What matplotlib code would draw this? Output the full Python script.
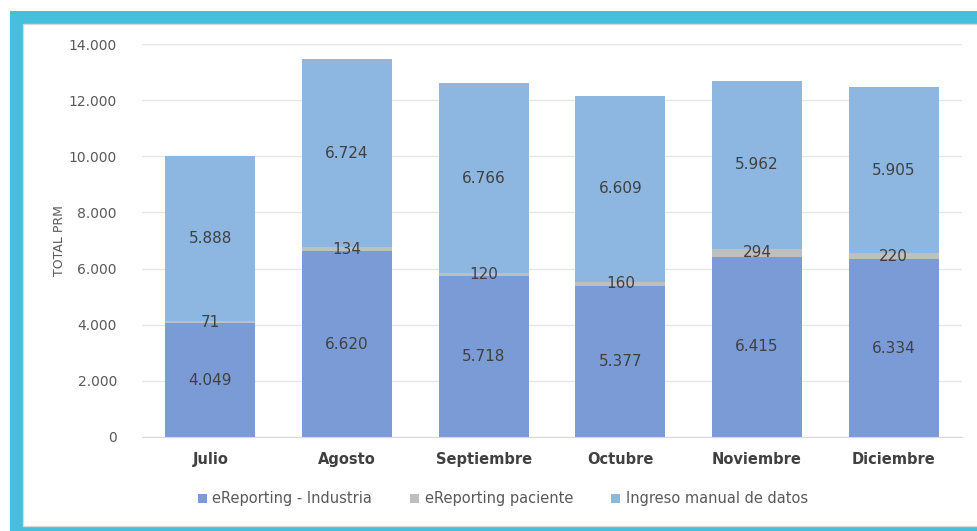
import matplotlib.pyplot as plt
from matplotlib.patches import Rectangle

# Monthly PRM totals by input channel
months = ['Julio', 'Agosto', 'Septiembre', 'Octubre', 'Noviembre', 'Diciembre']
industria = [4049, 6620, 5718, 5377, 6415, 6334]
paciente = [71, 134, 120, 160, 294, 220]
manual = [5888, 6724, 6766, 6609, 5962, 5905]

series_names = ['eReporting - Industria', 'eReporting paciente', 'Ingreso manual de datos']
colors = ['#7b9bd7', '#bfbfbf', '#8db7e1']

fig = plt.figure(figsize=(9.78, 5.31), dpi=100)

# cyan frame around the chart
fig.patches.append(Rectangle((10 / 978, 0), 968 / 978, 520 / 531,
                             transform=fig.transFigure, facecolor='#46bfdc',
                             edgecolor='none', zorder=-2))
fig.patches.append(Rectangle((23 / 978, 5 / 531), 955 / 978, 502 / 531,
                             transform=fig.transFigure, facecolor='white',
                             edgecolor='#d9d9d9', linewidth=1, zorder=-1))

ax = fig.add_axes([142 / 978, 94 / 531, 820 / 978, 393 / 531])
ax.set_facecolor('none')
ax.set_zorder(1)

x = range(len(months))
width = 0.66
bottom2 = [a + b for a, b in zip(industria, paciente)]

bars1 = ax.bar(x, industria, width, color=colors[0], label=series_names[0], zorder=2)
bars2 = ax.bar(x, paciente, width, bottom=industria, color=colors[1], label=series_names[1], zorder=2)
bars3 = ax.bar(x, manual, width, bottom=bottom2, color=colors[2], label=series_names[2], zorder=2)

# value labels centred in each segment
for bars, vals in [(bars1, industria), (bars2, paciente), (bars3, manual)]:
    for bar, v in zip(bars, vals):
        ax.text(bar.get_x() + bar.get_width() / 2, bar.get_y() + bar.get_height() / 2,
                f'{v:,}'.replace(',', '.'), ha='center', va='center',
                fontsize=11, color='#404040', zorder=3)

ax.set_ylim(0, 14000)
ax.set_xlim(-0.5, len(months) - 0.5)
ax.set_yticks(range(0, 14001, 2000))
ax.set_yticklabels([f'{t:,}'.replace(',', '.') for t in range(0, 14001, 2000)],
                   fontsize=10, color='#595959')
ax.set_xticks(list(x))
ax.set_xticklabels(months, fontsize=10.5, fontweight='bold', color='#404040')
ax.tick_params(axis='both', length=0)
ax.tick_params(axis='x', pad=11)
ax.tick_params(axis='y', pad=18)
ax.yaxis.grid(True, color='#e6e6e6', linewidth=1, zorder=0)
ax.set_axisbelow(True)
for s in ['top', 'right', 'left']:
    ax.spines[s].set_visible(False)
ax.spines['bottom'].set_color('#d9d9d9')

ax.set_ylabel('TOTAL PRM', fontsize=9, color='#595959', labelpad=2)

ax.legend(loc='upper center', bbox_to_anchor=(0.44, -0.105), ncol=3, frameon=False,
          fontsize=10.5, handlelength=0.6, handleheight=0.6, handletextpad=0.4,
          columnspacing=2.6, labelcolor='#595959')

fig.savefig('out.png', dpi=100)
